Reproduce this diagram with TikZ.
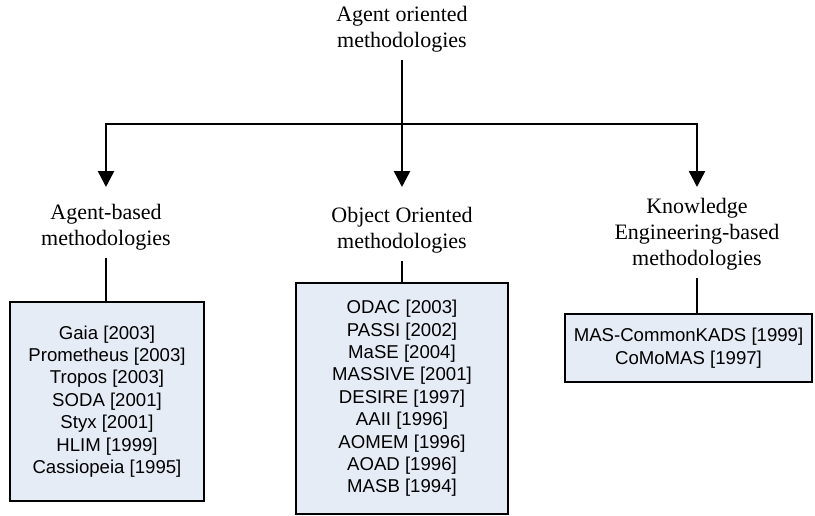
\documentclass[tikz,border=0pt]{standalone}
\usepackage{fontspec}
\setmainfont{Liberation Serif}
\newfontfamily\boxfont{Liberation Sans}
\usetikzlibrary{arrows.meta}
\definecolor{boxfill}{RGB}{230,236,246}
\begin{document}
\begin{tikzpicture}[x=1pt,y=-1pt,
  catlabel/.style={align=center,inner sep=2pt,font=\fontsize{22}{26}\selectfont},
  listbox/.style={draw=black,line width=2.2pt,fill=boxfill,align=center,inner sep=0pt,
    font=\boxfont\fontsize{18.6}{22.4}\selectfont},
  link/.style={line width=2.5pt},
  branch/.style={line width=2.5pt,-{Triangle[width=16pt,length=16pt]}}]
\useasboundingbox (0,0) rectangle (815,515);

% root and its three categories
\node[catlabel] (root) at (402,29) {Agent oriented\\methodologies};
\node[catlabel] (agent) at (106,227) {Agent-based\\methodologies};
\node[catlabel] (object) at (402,230) {Object Oriented\\methodologies};
\node[catlabel] (know) at (697,234) {Knowledge\\Engineering-based\\methodologies};

% lists of methodologies
\node[listbox,minimum width=194pt,minimum height=199pt] (agentbox) at (107,401.5)
  {Gaia [2003]\\Prometheus [2003]\\Tropos [2003]\\SODA [2001]\\Styx [2001]\\HLIM [1999]\\Cassiopeia [1995]};
\node[listbox,minimum width=212pt,minimum height=231pt] (objectbox) at (402,398.5)
  {ODAC [2003]\\PASSI [2002]\\MaSE [2004]\\MASSIVE [2001]\\DESIRE [1997]\\AAII [1996]\\AOMEM [1996]\\AOAD [1996]\\MASB [1994]};
\node[listbox,minimum width=247pt,minimum height=68pt] (knowbox) at (688.5,348)
  {MAS-CommonKADS [1999]\\CoMoMAS [1997]};

% tree connectors
\coordinate (hub) at (402,124);
\coordinate (barL) at (106,124);
\coordinate (barR) at (697,124);
\coordinate (tipL) at (106,187);
\coordinate (tipM) at (402,187);
\coordinate (tipR) at (697,187);
\draw[link,shorten <=6pt] (root.south) -- (hub);
\draw[link,line cap=rect] (barL) -- (barR);
\draw[branch] (barL) -- (tipL);
\draw[branch] (hub) -- (tipM);
\draw[branch] (barR) -- (tipR);

% category to list
\draw[link,shorten <=6pt] (agent.south) -- (agent.south |- agentbox.north);
\draw[link,shorten <=6pt] (object.south) -- (object.south |- objectbox.north);
\draw[link,shorten <=6pt] (know.south) -- (know.south |- knowbox.north);
\end{tikzpicture}
\end{document}
